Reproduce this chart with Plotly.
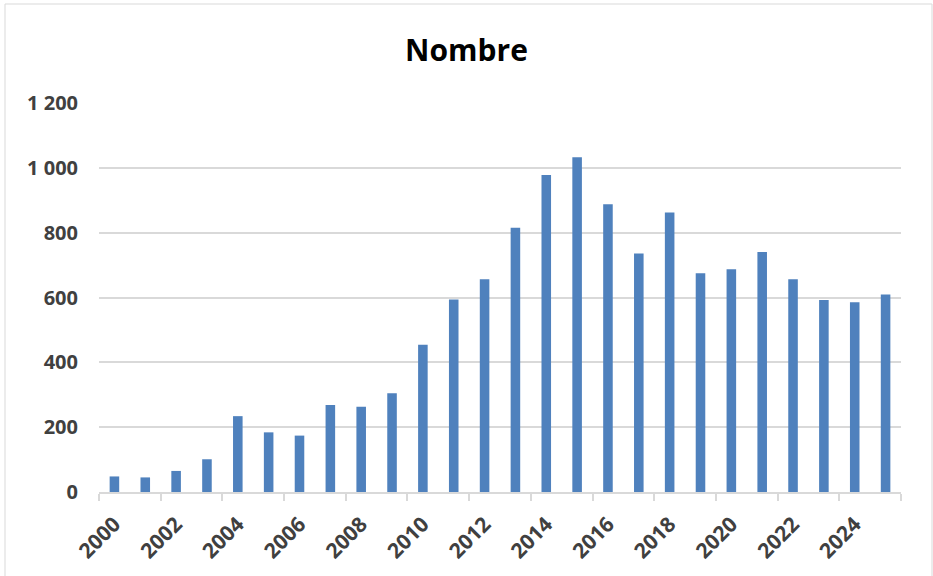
import plotly.graph_objects as go

# Annual counts, 2000-2025
years = list(range(2000, 2026))
counts = [48, 45, 65, 101, 234, 184, 174, 268, 263, 305, 454, 594, 656,
          815, 978, 1033, 888, 736, 862, 675, 687, 740, 656, 592, 585, 609]

x_labels = list(range(2000, 2025, 2))
y_ticks = [0, 200, 400, 600, 800, 1000, 1200]

W, H = 933, 576
L, R, T, B = 99, 32, 103, 84
plot_w = W - L - R
plot_h = H - T - B

BAR = "#4F81BD"
GRID = "#D9D9D9"
TXT = "#404040"
FONT = "Open Sans"

fig = go.Figure(
    go.Bar(x=years, y=counts, marker=dict(color=BAR, line=dict(width=0)))
)

# tick marks sit between pairs of years, labels under even years
boundaries = [y - 0.5 for y in range(2000, 2027, 2)]

fig.update_layout(
    width=W, height=H,
    margin=dict(l=L, r=R, t=T, b=B),
    paper_bgcolor="white", plot_bgcolor="white",
    separators=", ",
    bargap=0.69,
    showlegend=False,
    title=dict(text="Nombre", x=0.5, xanchor="center", y=1 - 50 / H, yanchor="middle",
               font=dict(family=FONT, size=30, color="black", weight="bold")),
    xaxis=dict(
        range=[1999.5, 2025.5], tickmode="array", tickvals=x_labels,
        ticktext=[str(v) for v in x_labels], tickangle=-45, ticks="",
        ticklabelstandoff=10, automargin=False,
        showgrid=False, showline=True, linecolor=GRID, linewidth=1.5,
        tickfont=dict(family=FONT, size=21, color=TXT, weight="bold"),
        minor=dict(tickmode="array", tickvals=boundaries, ticks="outside",
                   ticklen=7, tickcolor=GRID, tickwidth=1.5, showgrid=False),
        zeroline=False,
    ),
    yaxis=dict(
        range=[0, 1200], tickmode="array", tickvals=y_ticks, tickformat=",",
        showgrid=True, gridcolor=GRID, gridwidth=1.5, zeroline=False,
        showline=False, ticks="", ticklabelstandoff=20, automargin=False,
        tickfont=dict(family=FONT, size=20, color=TXT, weight="bold"),
    ),
)

# outer chart frame
def px_x(p):
    return (p - L) / plot_w

def px_y(p):
    return (H - B - p) / plot_h

fig.add_shape(type="rect", xref="paper", yref="paper",
              x0=px_x(5), x1=px_x(932), y0=px_y(590), y1=px_y(4),
              line=dict(color=GRID, width=1), fillcolor="rgba(0,0,0,0)",
              layer="below")

fig.write_html("out.html")
